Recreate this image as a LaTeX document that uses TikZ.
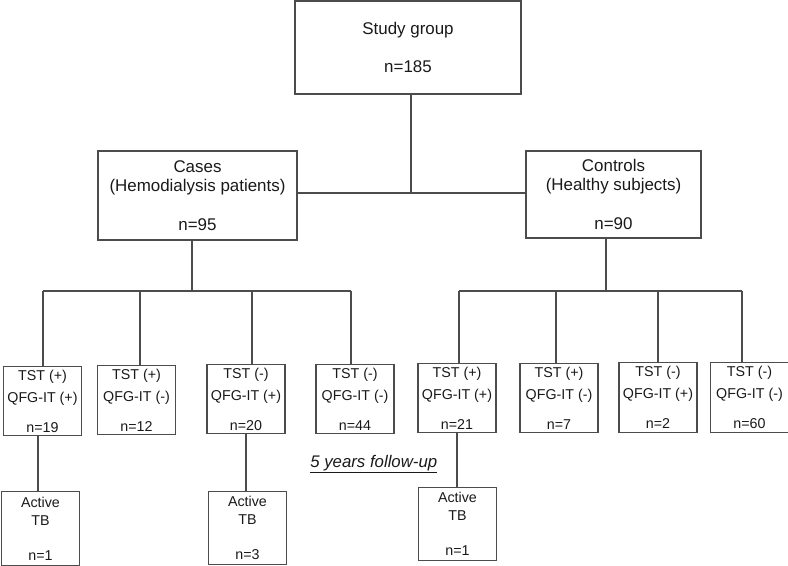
\documentclass[tikz,border=0pt]{standalone}
\usepackage{fontspec}
\setmainfont{Liberation Sans}
\usetikzlibrary{calc}
\tikzset{
	bigbox/.style={draw=black!70, line width=0.8pt, align=center, inner sep=0pt, text=black!90, font=\fontsize{12.7}{15.2}\selectfont},
	smallbox/.style={draw=black!70, line width=0.8pt, align=center, inner sep=0pt, text=black!90, font=\fontsize{10.7}{12.8}\selectfont, minimum width=58.5pt, minimum height=52pt},
	tbbox/.style={smallbox, minimum width=58pt, minimum height=55pt},
	link/.style={draw=black!70, line width=0.8pt}
}

\begin{document}
\begin{tikzpicture}[x=0.75pt,y=-0.75pt]
			%%%%% START %%%%%
			\def\ytop{193}
			\def\ybar{291}
			\def\ymid{399}
			\useasboundingbox (0,0) rectangle (788,566);
			
			\node[bigbox, minimum width=169.5pt, minimum height=69.75pt] (study) at (408,47.5) {Study group\\[13.3pt]n=185};
			\node[bigbox, minimum width=149.25pt, minimum height=66.75pt] (cases) at (197.5,195.5) {Cases\\[-1pt](Hemodialysis patients)\\[14pt]n=95};
			\node[bigbox, minimum width=131.25pt, minimum height=65.25pt] (controls) at (613.5,194.5) {Controls\\[-1pt](Healthy subjects)\\[14pt]n=90};
			
			\node[smallbox] (c1) at (42.5,\ymid+2) {TST (+)\\[3.7pt]QFG-IT (+)\\[9.7pt]n=19};
			\node[smallbox] (c2) at (136.5,\ymid+1) {TST (+)\\[3.7pt]QFG-IT (-)\\[9.7pt]n=12};
			\node[smallbox] (c3) at (246,\ymid) {TST (-)\\[3.7pt]QFG-IT (+)\\[9.7pt]n=20};
			\node[smallbox] (c4) at (355,\ymid) {TST (-)\\[3.7pt]QFG-IT (-)\\[9.7pt]n=44};
			
			\node[smallbox] (c5) at (457,\ymid-1) {TST (+)\\[3.7pt]QFG-IT (+)\\[9.7pt]n=21};
			\node[smallbox] (c6) at (559,\ymid-1) {TST (+)\\[3.7pt]QFG-IT (-)\\[9.7pt]n=7};
			\node[smallbox] (c7) at (658,\ymid-1.5) {TST (-)\\[3.7pt]QFG-IT (+)\\[9.7pt]n=2};
			\node[smallbox] (c8) at (749.5,\ymid-1.5) {TST (-)\\[3.7pt]QFG-IT (-)\\[9.7pt]n=60};
			
			\node[tbbox] (tb1) at (40.5,528.5) {Active\\[0.7pt]TB\\[13.4pt]n=1};
			\node[tbbox] (tb2) at (247.5,528) {Active\\[0.7pt]TB\\[13.4pt]n=3};
			\node[tbbox] (tb3) at (457.5,524) {Active\\[0.7pt]TB\\[13.4pt]n=1};
			
			\node[anchor=base west, inner sep=0pt, text=black!90, font=\fontsize{12.6}{15}\selectfont\itshape] (follow) at (310,467) {\underline{5 years follow-up}};
			
			\coordinate (top) at (411,\ytop);
			
			\draw[link] (study.south -| top) -- (top);
			\draw[link] (cases.east |- top) -- (controls.west |- top);
			
			\draw[link] (cases.south -| 192,0) -- (192,\ybar);
			\draw[link] (controls.south -| 606,0) -- (606,\ybar);
			\draw[link] (43,\ybar) -- (351,\ybar);
			\draw[link] (459,\ybar) -- (742,\ybar);
			\foreach \n/\x in {c1/43,c2/140,c3/252,c4/351,c5/459,c6/556,c7/658,c8/742}
				\draw[link] (\n.north -| \x,0) -- (\x,\ybar);
			
			\draw[link] (c1.south -| 38,0) -- (tb1.north -| 38,0);
			\draw[link] (c3.south) -- (c3.south |- tb2.north);
			\draw[link] (c5.south) -- (c5.south |- tb3.north);
			%%%%% END %%%%%
\end{tikzpicture}
\end{document}
